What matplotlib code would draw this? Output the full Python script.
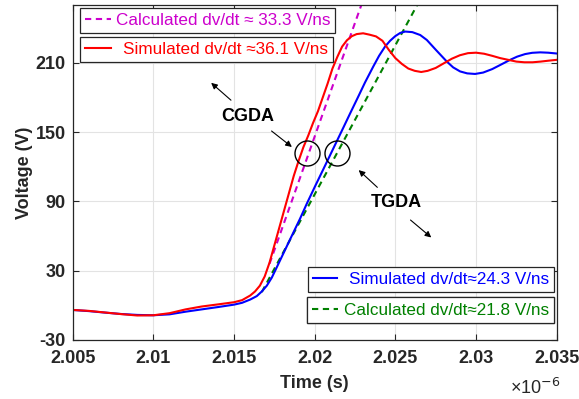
import matplotlib
matplotlib.use("Agg")
import matplotlib.pyplot as plt
from matplotlib.ticker import FuncFormatter

# time in microseconds (axis shows x10^-6 s), voltage in V
t_red = [2.0050, 2.0060, 2.0070, 2.0080, 2.0090, 2.0100, 2.0110, 2.0120,
         2.0130, 2.0140, 2.0150, 2.0155, 2.0160, 2.0163, 2.0166, 2.0169,
         2.0172, 2.0175, 2.0178, 2.0181, 2.0184, 2.0187, 2.0190, 2.0193,
         2.0196, 2.0199, 2.0202, 2.0205, 2.0208, 2.0211, 2.0214, 2.0217,
         2.0220, 2.0223, 2.0226, 2.0230, 2.0234, 2.0238, 2.0242, 2.0246,
         2.0250, 2.0254, 2.0258, 2.0262, 2.0266, 2.0270, 2.0275, 2.0280,
         2.0285, 2.0290, 2.0295, 2.0300, 2.0305, 2.0310, 2.0315, 2.0320,
         2.0325, 2.0330, 2.0335, 2.0340, 2.0345, 2.0350]
v_red = [-4.0, -4.8, -6.2, -7.6, -8.8, -8.6, -6.8, -3.5,
         -1.0, 0.8, 2.7, 4.5, 8.5, 12, 17, 25,
         37, 52, 67, 82, 97, 112, 125, 137,
         147, 158, 168, 180, 192, 205, 215, 224,
         229.5, 233, 234.8, 235.5, 234.3, 232.8, 229, 221,
         214, 209, 205, 203, 202, 203, 205.5, 209.5,
         213.5, 216.5, 218.3, 218.7, 217.8, 216, 214, 212.5,
         211, 210.4, 210.4, 211, 211.8, 212.5]

t_blue = [2.0050, 2.0060, 2.0070, 2.0080, 2.0090, 2.0100, 2.0110, 2.0120,
          2.0130, 2.0140, 2.0150, 2.0155, 2.0160, 2.01641, 2.01672, 2.01703,
          2.01734, 2.01765, 2.01806, 2.01847, 2.01909, 2.01951, 2.02002,
          2.02054, 2.02116, 2.02178, 2.02219, 2.02271, 2.02312, 2.02364,
          2.02399, 2.02436, 2.02467, 2.02499, 2.02530, 2.02561, 2.02605,
          2.02654, 2.02695, 2.02752, 2.02819, 2.02858, 2.02901, 2.02945,
          2.02994, 2.03044, 2.03100, 2.03149, 2.03211, 2.03255, 2.03304,
          2.03348, 2.03398, 2.03447, 2.0350]
v_blue = [-4.0, -5.0, -6.3, -7.5, -8.3, -8.6, -7.8, -5.5,
          -3.5, -1.5, 0.6, 2.2, 5, 8, 12, 17,
          24, 33, 45, 57, 75, 88, 103,
          118, 136, 154, 166, 181, 193, 207,
          216, 224, 229, 233, 235.8, 237, 236.5,
          234, 229.7, 221, 211, 206, 202.5, 200.8,
          200.3, 201.5, 204.5, 208, 212.5, 215.3, 217.5,
          218.6, 219, 218.7, 218]

# calculated dv/dt lines (start, end)
t_mag = [2.01720, 2.02289]
v_mag = [36, 260]
t_grn = [2.01672, 2.02635]
v_grn = [11.5, 260]

xticks = [2.005, 2.01, 2.015, 2.02, 2.025, 2.03, 2.035]
yticks = [-30, 30, 90, 150, 210]

RED = "#ff0000"
BLUE = "#0000ff"
MAG = "#cc00cc"
GRN = "#008000"
DARK = "#262626"

plt.rcParams["font.family"] = ["Liberation Sans", "DejaVu Sans"]
plt.rcParams["axes.unicode_minus"] = False

fig = plt.figure(figsize=(5.79, 3.99), dpi=100)
ax = fig.add_axes([0.1256, 0.1479, 0.8359, 0.8396])

l_mag, = ax.plot(t_mag, v_mag, "--", color=MAG, lw=1.5, dashes=(3, 2.2),
                 label="Calculated dv/dt \u2248 33.3 V/ns")
l_grn, = ax.plot(t_grn, v_grn, "--", color=GRN, lw=1.5, dashes=(3, 2.2),
                 label="Calculated dv/dt\u224821.8 V/ns")
l_blue, = ax.plot(t_blue, v_blue, color=BLUE, lw=1.5,
                  label="Simulated dv/dt\u224824.3 V/ns")
l_red, = ax.plot(t_red, v_red, color=RED, lw=1.5,
                 label="Simulated dv/dt \u224836.1 V/ns")

# circles marking the measurement points
ax.plot([2.019507, 2.021367], [131.6, 131.6], "o", ms=18, mfc="none",
        mec="k", mew=1.0)

ax.set_xlim(2.005, 2.035)
ax.set_ylim(-30, 260)
ax.set_xticks(xticks)
ax.set_yticks(yticks)
ax.xaxis.set_major_formatter(FuncFormatter(lambda v, p: f"{v:g}"))
ax.grid(True, color="#e3e3e3", lw=0.8)
ax.set_axisbelow(True)
ax.tick_params(direction="in", top=True, right=True, length=4, width=0.8,
               colors=DARK, labelsize=13, pad=5)
ax.tick_params(axis="x", pad=7)
for lab in ax.get_xticklabels() + ax.get_yticklabels():
    lab.set_fontweight("bold")
for sp in ax.spines.values():
    sp.set_color(DARK)
    sp.set_linewidth(0.9)

ax.set_xlabel("Time (s)", fontsize=13, fontweight="bold", color=DARK,
              labelpad=6)
ax.set_ylabel("Voltage (V)", fontsize=13, fontweight="bold", color=DARK,
              labelpad=2)
fig.text(0.881, 0.012, "\u00d710$^{-6}$", fontsize=13, color=DARK)

# annotations
ax.text(2.015868, 163.1, "CGDA", fontsize=13, fontweight="bold",
        ha="center", va="center")
ax.text(2.025087, 89, "TGDA", fontsize=13, fontweight="bold",
        ha="center", va="center")
arrow = dict(arrowstyle="-|>", color="k", lw=0.8, mutation_scale=9)
ax.annotate("", xy=(2.013451, 194.2), xytext=(2.014938, 176), arrowprops=arrow)
ax.annotate("", xy=(2.018720, 135.6), xytext=(2.017189, 152.4), arrowprops=arrow)
ax.annotate("", xy=(2.022599, 118.7), xytext=(2.024009, 100.5), arrowprops=arrow)
ax.annotate("", xy=(2.027356, 57.2), xytext=(2.025806, 75.4), arrowprops=arrow)


def box_legend(handle, loc, anchor, hlen, hpad):
    leg = ax.legend(handles=[handle], loc=loc, bbox_to_anchor=anchor,
                    borderaxespad=0, fontsize=12.3, labelcolor="linecolor",
                    fancybox=False, framealpha=1, edgecolor="#262626",
                    borderpad=0.3, handlelength=hlen, handletextpad=hpad)
    leg.get_frame().set_linewidth(0.9)
    ax.add_artist(leg)
    return leg


box_legend(l_mag, "upper left", (0.015, 0.991), 1.5, 0.3)
box_legend(l_red, "upper left", (0.015, 0.904), 1.5, 0.7)
box_legend(l_blue, "upper right", (0.9944, 0.219), 1.4, 0.7)
box_legend(l_grn, "upper right", (0.9944, 0.127), 1.5, 0.35)

fig.savefig("out.png", dpi=100)
